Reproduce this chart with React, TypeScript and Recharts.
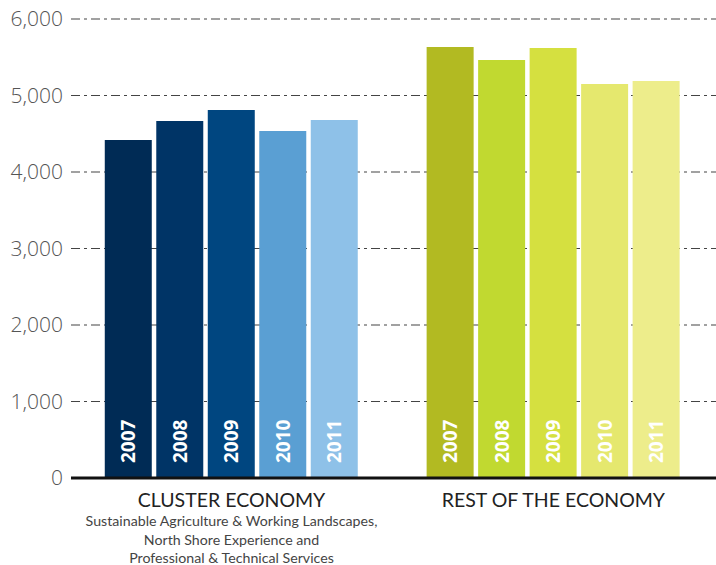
import { BarChart, Bar, Cell, XAxis, YAxis, CartesianGrid, LabelList } from "recharts";

const years = ["2007", "2008", "2009", "2010", "2011"];
const clusterValues = [4418, 4667, 4810, 4536, 4680];
const restValues = [5634, 5464, 5621, 5150, 5190];
const clusterColors = ["#002b55", "#003466", "#004680", "#5a9fd3", "#8ec1e8"];
const restColors = ["#b2ba22", "#c1d930", "#d5e040", "#e5e86e", "#eded8b"];
const groupTitles = ["CLUSTER ECONOMY", "REST OF THE ECONOMY"];
const groupSubtitles = [
  [
    "Sustainable Agriculture & Working Landscapes,",
    "North Shore Experience and",
    "Professional & Technical Services",
  ],
  [],
];
const yTicks = [0, 1000, 2000, 3000, 4000, 5000, 6000];

const groupOffset = 6.25;
const data = [
  ...years.map((year, i) => ({ slot: i, year, value: clusterValues[i], color: clusterColors[i] })),
  ...years.map((year, i) => ({ slot: groupOffset + i, year, value: restValues[i], color: restColors[i] })),
];
const groupCenters = [2, groupOffset + 2];

const font = "Lato, 'Open Sans', sans-serif";

function YearLabel(props: any) {
  const { x, y, width, height, value } = props;
  const cx = x + width / 2;
  const by = y + height - 15;
  return (
    <text
      x={cx}
      y={by}
      transform={`rotate(-90 ${cx} ${by})`}
      textAnchor="start"
      dominantBaseline="central"
      fill="#ffffff"
      fontFamily="'Open Sans', sans-serif"
      fontWeight={700}
      fontSize={19}
    >
      {value}
    </text>
  );
}

function GroupTick(props: any) {
  const { x, index } = props;
  const top = 478;
  return (
    <g>
      <text x={x} y={top + 29} textAnchor="middle" fill="#222" fontFamily={font} fontSize={19.5}>
        {groupTitles[index]}
      </text>
      {groupSubtitles[index].map((line, i) => (
        <text key={i} x={x} y={top + 48 + i * 18.5} textAnchor="middle" fill="#444" fontFamily={font} fontSize={14.2}>
          {line}
        </text>
      ))}
    </g>
  );
}

export default function App() {
  return (
    <div style={{ position: "absolute", left: 0, top: 0 }}>
      <BarChart width={716} height={565} data={data} margin={{ top: 19, right: 0, left: 0, bottom: 0 }}>
        <CartesianGrid vertical={false} stroke="#444" strokeWidth={1.1} strokeDasharray="9 4 3 4" />
        <XAxis
          dataKey="slot"
          type="number"
          domain={[-1.117, 11.408]}
          ticks={groupCenters}
          height={87}
          axisLine={{ stroke: "#111", strokeWidth: 3 }}
          tickLine={false}
          tick={<GroupTick />}
          interval={0}
          allowDataOverflow
        />
        <YAxis
          width={71}
          domain={[0, 6000]}
          ticks={yTicks}
          axisLine={false}
          tickLine={false}
          tickFormatter={(v: number) => v.toLocaleString("en-US")}
          tick={{ fill: "#555", fontSize: 21, fontFamily: "'Open Sans', sans-serif", fontWeight: 300 }}
        />
        <Bar dataKey="value" barSize={47} isAnimationActive={false}>
          {data.map((d, i) => (
            <Cell key={i} fill={d.color} />
          ))}
          <LabelList dataKey="year" content={<YearLabel />} />
        </Bar>
      </BarChart>
    </div>
  );
}
